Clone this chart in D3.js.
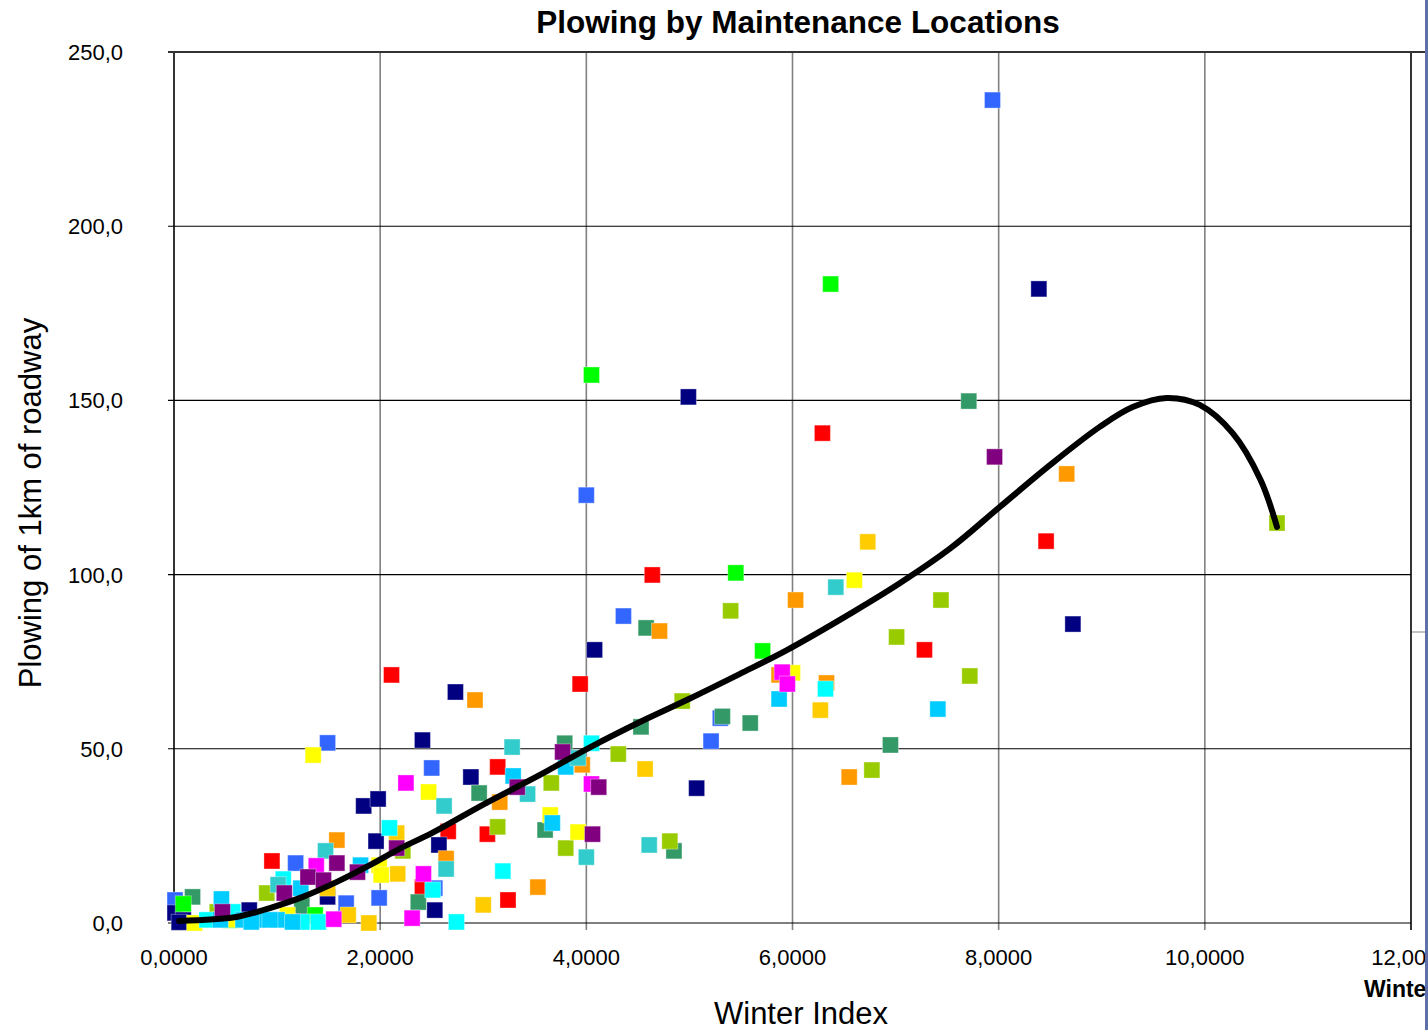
<!DOCTYPE html>
<html><head><meta charset="utf-8">
<script src="https://cdn.jsdelivr.net/npm/d3@7"></script>
<style>body{margin:0;background:#fff}svg{display:block}</style>
</head><body>
<svg id="c" width="1428" height="1030"></svg>
<script>
// ---- data (x = Winter Index, y = plowing of 1 km of roadway) ----
const xTicks = [0,2,4,6,8,10,12];
const yTicks = [0,50,100,150,200,250];
const seriesColors = ["#ff0000","#3366ff","#000080","#339966","#00ff00","#99cc00","#ff9900","#ffcc00","#ffff00","#00ffff","#00ccff","#33cccc","#ff00ff","#800080"];
const red = [[6.29,140.6],[8.46,109.6],[4.64,99.9],[7.28,78.4],[2.11,71.2],[3.94,68.6],[3.14,44.8],[2.66,26.3],[3.04,25.5],[3.24,6.6],[2.41,10.3],[0.95,17.8]];
const blue = [[7.94,236.2],[4.00,122.8],[4.36,88.1],[5.30,58.8],[5.21,52.2],[1.49,51.7],[2.50,44.5],[1.18,17.2],[1.67,5.7],[1.99,7.2],[2.53,10.0],[0.01,6.6]];
const navy = [[8.39,182.0],[4.99,151.0],[8.72,85.8],[4.08,78.4],[2.73,66.3],[2.41,52.5],[2.88,41.9],[5.07,38.7],[1.84,33.6],[1.98,35.6],[1.96,23.5],[2.57,22.4],[1.49,7.5],[2.53,3.7],[1.26,2.3],[0.73,3.7],[0.01,2.9],[0.09,0.9],[0.05,0.2]];
const seaGreen = [[7.71,149.8],[4.58,84.7],[5.59,57.4],[4.53,56.3],[5.32,59.3],[6.95,51.1],[3.79,51.6],[2.96,37.3],[3.60,26.7],[4.85,20.7],[2.37,6.0],[1.24,5.0],[0.18,7.5]];
const lime = [[6.37,183.4],[4.05,157.3],[5.45,100.5],[5.71,78.1],[0.09,5.5],[1.37,2.3],[0.55,0.8]];
const yellowGreen = [[10.70,114.8],[5.40,89.6],[7.44,92.7],[7.01,82.1],[7.72,70.9],[4.93,63.7],[4.31,48.5],[3.66,40.2],[3.14,27.6],[3.80,21.5],[4.81,23.5],[6.77,43.9],[0.90,8.6],[2.22,20.7],[0.42,3.2]];
const orange = [[8.66,128.9],[6.03,92.7],[4.71,83.8],[5.87,71.2],[6.33,68.9],[2.92,64.0],[3.96,45.4],[3.16,34.7],[1.58,23.8],[2.64,18.5],[3.53,10.3],[6.55,41.9]];
const gold = [[6.73,109.4],[6.27,61.1],[4.57,44.2],[2.16,25.8],[2.17,14.1],[1.49,10.0],[3.00,5.2],[1.69,2.3],[1.89,0.0]];
const yellow = [[6.60,98.4],[6.00,71.8],[1.35,48.2],[2.47,37.6],[3.65,31.0],[3.92,26.1],[1.99,16.6],[2.01,13.8],[1.10,2.3],[0.20,0.0],[0.55,1.0]];
const cyan = [[6.32,67.2],[4.05,51.6],[2.09,27.3],[3.19,14.9],[1.06,12.6],[2.51,9.5],[2.74,0.3],[1.40,0.3],[1.24,0.3],[0.32,0.9],[0.57,3.2]];
const skyBlue = [[5.87,64.3],[7.41,61.4],[3.80,44.8],[3.29,42.2],[3.67,28.7],[1.81,16.6],[1.23,10.0],[0.46,6.9],[0.45,0.9],[0.67,0.9],[0.81,0.9],[1.00,0.9],[0.93,0.9],[1.15,0.3],[0.75,0.3]];
const teal = [[6.42,96.4],[3.28,50.5],[3.92,47.4],[3.43,37.0],[2.62,33.6],[4.00,18.9],[4.61,22.4],[1.47,20.7],[2.64,15.5],[1.01,11.0]];
const magenta = [[5.90,72.0],[5.95,68.6],[4.05,39.9],[2.25,40.2],[1.38,16.4],[2.42,14.1],[2.31,1.4],[1.55,1.1]];
const purple = [[7.96,133.8],[3.77,49.1],[4.12,39.0],[3.33,39.0],[4.06,25.5],[2.16,21.5],[1.58,17.2],[1.78,14.6],[1.30,13.2],[1.45,12.3],[1.07,8.6],[0.47,3.2]];
// trend line
const trend = [[0.05,0.6],[0.6,1.7],[0.93,4.3],[1.25,7.5],[1.58,11.8],[1.9,16.6],[2.2,21.5],[2.5,25.8],[3.0,34.0],[3.55,42.5],[4.04,50.5],[4.52,57.7],[5.01,64.5],[5.49,71.5],[5.95,78.4],[6.59,89.3],[7.04,97.5],[7.53,107.5],[8.01,119.4],[8.5,131.5],[8.98,142.4],[9.3,148.1],[9.63,150.7],[9.95,148.7],[10.27,140.6],[10.54,127.2],[10.7,113.7]];

const allSeries = [red,blue,navy,seaGreen,lime,yellowGreen,orange,gold,yellow,cyan,skyBlue,teal,magenta,purple];

// ---- layout ----
const L = 174, R = 1411, T = 52, B = 923;
const x = d3.scaleLinear().domain([0,12]).range([L,R]);
const y = d3.scaleLinear().domain([0,250]).range([B,T]);
const loc = d3.formatLocale({decimal:",", thousands:".", grouping:[3], currency:["","€"]});
const fx = loc.format(".4f"), fy = loc.format(".1f");

const svg = d3.select("#c");
const font = "'Liberation Sans', Arial, sans-serif";

svg.append("defs").append("clipPath").attr("id","vis").append("rect").attr("x",0).attr("y",0).attr("width",1425).attr("height",1030);
const g = svg.append("g").attr("clip-path","url(#vis)");

// title
g.append("text").attr("x",798).attr("y",33).attr("text-anchor","middle")
  .attr("font-family",font).attr("font-weight","bold").attr("font-size",31.5)
  .text("Plowing by Maintenance Locations");

// grid
g.selectAll(".vg").data(xTicks.filter(t=>t>0 && t<12)).join("line")
  .attr("x1",d=>x(d)).attr("x2",d=>x(d)).attr("y1",T).attr("y2",B+7)
  .attr("stroke","#808080").attr("stroke-width",1.6);
g.selectAll(".hg").data(yTicks.filter(t=>t>0)).join("line")
  .attr("x1",L-6).attr("x2",R).attr("y1",d=>y(d)).attr("y2",d=>y(d))
  .attr("stroke","#000").attr("stroke-width",1.1);

// axes frame
g.append("line").attr("x1",L).attr("x2",L).attr("y1",T).attr("y2",B).attr("stroke","#000").attr("stroke-width",1.6);
g.append("line").attr("x1",R).attr("x2",R).attr("y1",T).attr("y2",B+7).attr("stroke","#000").attr("stroke-width",1.6);
g.append("line").attr("x1",L-6).attr("x2",R).attr("y1",B).attr("y2",B).attr("stroke","#000").attr("stroke-width",1.2);
g.append("line").attr("x1",L-6).attr("x2",R+14).attr("y1",T).attr("y2",T).attr("stroke","#333").attr("stroke-width",2);
g.append("line").attr("x1",L).attr("x2",L).attr("y1",B).attr("y2",B+7).attr("stroke","#808080").attr("stroke-width",1.6);
// cut-off legend frame at right
g.append("line").attr("x1",R+1).attr("x2",1425).attr("y1",632).attr("y2",632).attr("stroke","#999").attr("stroke-width",1.2);

// tick labels
g.selectAll(".yl").data(yTicks).join("text")
  .attr("x",123).attr("y",d=>y(d)+8).attr("text-anchor","end")
  .attr("font-family",font).attr("font-size",22).text(d=>fy(d));
g.selectAll(".xl").data(xTicks).join("text")
  .attr("x",d=>x(d)).attr("y",965).attr("text-anchor","middle")
  .attr("font-family",font).attr("font-size",22).text(d=>fx(d));

// axis titles
g.append("text").attr("transform","translate(41,503) rotate(-90)").attr("text-anchor","middle")
  .attr("font-family",font).attr("font-size",31).text("Plowing of 1km of roadway");
g.append("text").attr("x",801).attr("y",1024).attr("text-anchor","middle")
  .attr("font-family",font).attr("font-size",31).text("Winter Index");
g.append("text").attr("x",1364).attr("y",997)
  .attr("font-family",font).attr("font-weight","bold").attr("font-size",23).text("Winter Index");

// points
const S = 16;
allSeries.forEach((data,i)=>{
  g.append("g").selectAll("rect").data(data).join("rect")
    .attr("x",d=>x(d[0])-S/2).attr("y",d=>y(d[1])-S/2)
    .attr("width",S).attr("height",S)
    .attr("fill",seriesColors[i]).attr("stroke","#fff").attr("stroke-opacity",0.35).attr("stroke-width",1);
});

// trend line
g.append("path").datum(trend)
  .attr("d",d3.line().x(d=>x(d[0])).y(d=>y(d[1])).curve(d3.curveCatmullRom.alpha(0.5)))
  .attr("fill","none").attr("stroke","#000").attr("stroke-width",6).attr("stroke-linecap","round");

// blue side bar
svg.append("rect").attr("x",1425).attr("y",0).attr("width",3).attr("height",1030).attr("fill","#6070a8");
</script>
</body></html>
